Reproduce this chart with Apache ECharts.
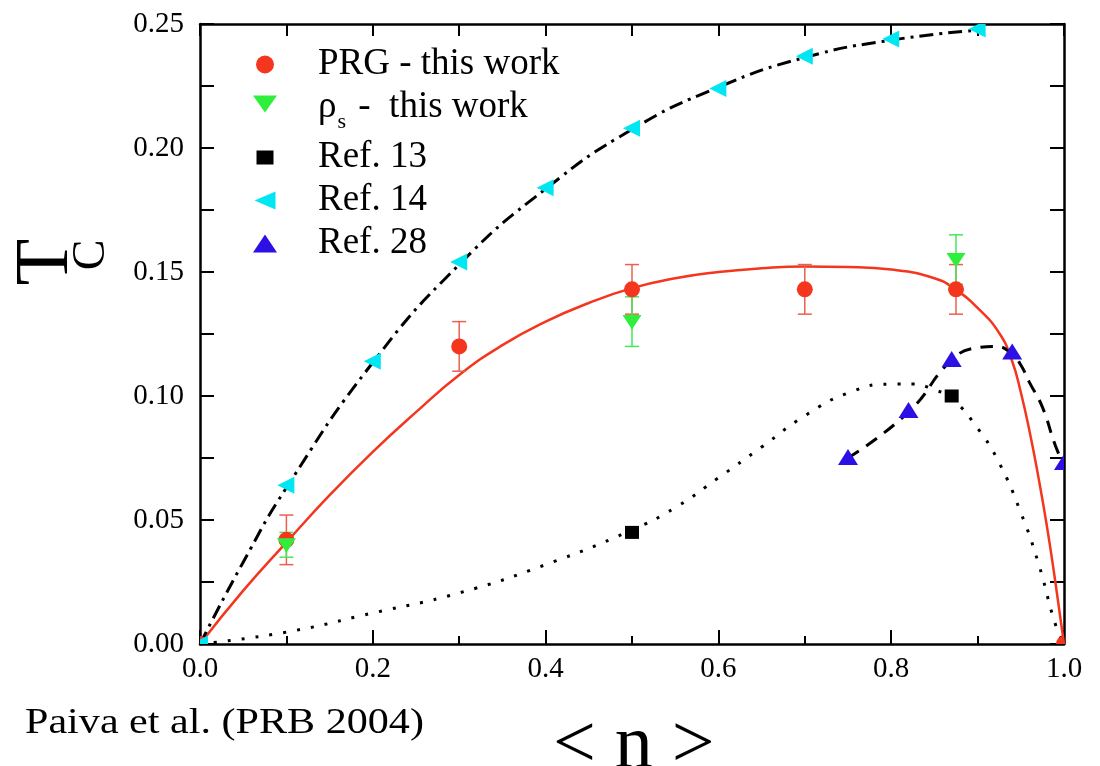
<!DOCTYPE html>
<html>
<head>
<meta charset="utf-8">
<script src="https://cdn.jsdelivr.net/npm/echarts@6/dist/echarts.min.js"></script>
<style>
html,body{margin:0;padding:0;background:#fff;}
#chart{width:1100px;height:766px;}
</style>
</head>
<body>
<div id="chart"></div>
<script>
// ---------- data ----------
const xTicks = [0.0, 0.2, 0.4, 0.6, 0.8, 1.0];
const yTicks = [0.00, 0.05, 0.10, 0.15, 0.20, 0.25];

// PRG - this work (red circles with error bars)
const prgX   = [0.0, 0.1, 0.3, 0.5, 0.7, 0.875, 1.0];
const prgY   = [0.0, 0.042, 0.120, 0.143, 0.143, 0.143, 0.0];
const prgErr = [null, 0.010, 0.010, 0.010, 0.010, 0.010, null];

// rho_s - this work (green down triangles with error bars)
const rhoX   = [0.1, 0.5, 0.875];
const rhoY   = [0.040, 0.130, 0.155];
const rhoErr = [0.005, 0.010, 0.010];

// Ref. 13 (black squares)
const ref13X = [0.5, 0.87];
const ref13Y = [0.045, 0.100];

// Ref. 14 (cyan left triangles)
const ref14X = [0.0, 0.1, 0.2, 0.3, 0.4, 0.5, 0.6, 0.7, 0.8, 0.9];
const ref14Y = [0.0, 0.064, 0.114, 0.154, 0.184, 0.208, 0.224, 0.237, 0.244, 0.248];

// Ref. 28 (blue triangles)
const ref28X = [0.75, 0.82, 0.87, 0.94, 1.0];
const ref28Y = [0.075, 0.094, 0.1145, 0.1175, 0.073];

// Curves
const prgFitX = [0, 0.05, 0.1, 0.15, 0.2, 0.25, 0.3, 0.35, 0.4, 0.45, 0.5, 0.55, 0.6, 0.65, 0.7, 0.75, 0.8, 0.85, 0.875, 0.9, 0.925, 0.94, 0.95, 0.96, 0.97, 0.98, 0.99, 1.0];
const prgFitY = [0, 0.0215, 0.041, 0.060, 0.0775, 0.0935, 0.1085, 0.1205, 0.130, 0.1375, 0.1435, 0.1475, 0.150, 0.1515, 0.1522, 0.152, 0.151, 0.1475, 0.1428, 0.1355, 0.1254, 0.114, 0.1015, 0.086, 0.068, 0.048, 0.025, 0];

const ref14CurveX = [0, 0.05, 0.1, 0.2, 0.3, 0.4, 0.5, 0.6, 0.7, 0.8, 0.9];
const ref14CurveY = [0, 0.033, 0.063, 0.1135, 0.153, 0.1835, 0.2075, 0.2245, 0.2365, 0.2435, 0.2475];

const ref13CurveX = [0, 0.1, 0.2, 0.3, 0.4, 0.5, 0.55, 0.6, 0.65, 0.7, 0.75, 0.8, 0.825, 0.85, 0.87, 0.9, 0.925, 0.95, 0.97, 0.99, 1.0];
const ref13CurveY = [0, 0.0048, 0.0125, 0.0206, 0.032, 0.046, 0.055, 0.067, 0.0794, 0.092, 0.1012, 0.1048, 0.1048, 0.1025, 0.099, 0.087, 0.073, 0.053, 0.033, 0.008, 0];

const ref28CurveX = [0.75, 0.82, 0.87, 0.9, 0.92, 0.94, 0.95, 0.96, 0.975, 0.99, 1.0];
const ref28CurveY = [0.075, 0.0935, 0.1145, 0.1195, 0.1200, 0.1170, 0.1125, 0.1055, 0.0955, 0.080, 0.072];

// ---------- styling ----------
const FONT = '"Liberation Serif", "Times New Roman", serif';
const RED = '#f4361f', RED_BAR = '#e9604e';
const GREEN = '#2ef03c', GREEN_BAR = '#46e85a';
const CYAN = '#00e6f2', BLUE = '#2c10e4', BLACK = '#000000';

const N_PRG = 'PRG - this work';
const N_RHO = 'ρs - this work';
const N_13 = 'Ref. 13';
const N_14 = 'Ref. 14';
const N_28 = 'Ref. 28';

const zip = (xs, ys) => xs.map((x, i) => [x, ys[i]]);

function shapeAt(shape, cx, cy, color) {
  switch (shape) {
    case 'circle':
      return {type: 'circle', shape: {cx, cy, r: 8}, style: {fill: color}};
    case 'down':
      return {type: 'polygon', shape: {points: [[cx - 9.5, cy - 6.5], [cx + 9.5, cy - 6.5], [cx, cy + 8]]}, style: {fill: color}};
    case 'square':
      return {type: 'rect', shape: {x: cx - 7, y: cy - 6.5, width: 14, height: 13}, style: {fill: color}};
    case 'left':
      return {type: 'polygon', shape: {points: [[cx - 9, cy], [cx + 8, cy - 8.5], [cx + 8, cy + 8.5]]}, style: {fill: color}};
    case 'up':
      return {type: 'polygon', shape: {points: [[cx, cy - 9], [cx + 10, cy + 7], [cx - 10, cy + 7]]}, style: {fill: color}};
  }
}

function markerSeries(name, xs, ys, color, shape) {
  return {
    name, type: 'custom', clip: true, z: 5,
    itemStyle: {color},
    data: zip(xs, ys),
    encode: {x: 0, y: 1},
    renderItem: (params, api) => {
      const c = api.coord([api.value(0), api.value(1)]);
      return shapeAt(shape, c[0], c[1], color);
    }
  };
}

function errorSeries(name, xs, ys, errs, color) {
  const data = [];
  xs.forEach((x, i) => { if (errs[i] != null) data.push([x, ys[i] - errs[i], ys[i] + errs[i]]); });
  return {
    name, type: 'custom', clip: true, z: 4,
    data, encode: {x: 0, y: [1, 2]},
    renderItem: (params, api) => {
      const x = api.value(0);
      const lo = api.coord([x, api.value(1)]);
      const hi = api.coord([x, api.value(2)]);
      const w = 7;
      const st = {stroke: color, lineWidth: 1.5};
      return {type: 'group', children: [
        {type: 'line', shape: {x1: lo[0], y1: lo[1], x2: hi[0], y2: hi[1]}, style: st},
        {type: 'line', shape: {x1: lo[0] - w, y1: lo[1], x2: lo[0] + w, y2: lo[1]}, style: st},
        {type: 'line', shape: {x1: hi[0] - w, y1: hi[1], x2: hi[0] + w, y2: hi[1]}, style: st}
      ]};
    }
  };
}

function curveSeries(name, xs, ys, color, width, type, smooth) {
  return {
    name, type: 'line', showSymbol: false, symbol: 'none', smooth: smooth, z: 3,
    data: zip(xs, ys),
    lineStyle: {color, width, type},
    silent: true
  };
}

const axisLine = {show: true, onZero: false, lineStyle: {color: '#000', width: 2.5}};
const tickStyle = {color: '#000', width: 2};

const option = {
  animation: false,
  backgroundColor: '#ffffff',
  grid: {left: 200, right: 36, top: 24, bottom: 122, containLabel: false},
  xAxis: [
    {
      type: 'value', position: 'bottom', min: 0, max: 1, interval: 0.2,
      axisLine, axisTick: {show: true, inside: true, length: 14, lineStyle: tickStyle},
      minorTick: {show: true, splitNumber: 2, length: 8, lineStyle: tickStyle},
      axisLabel: {show: true, color: '#000', fontFamily: FONT, fontSize: 29, margin: 11,
        formatter: v => { const t = xTicks.find(k => Math.abs(k - v) < 1e-9); return t == null ? '' : t.toFixed(1); }},
      splitLine: {show: false}, minorSplitLine: {show: false}
    },
    {
      type: 'value', position: 'top', min: 0, max: 1, interval: 0.1,
      axisLine, axisTick: {show: true, inside: true, length: 12, lineStyle: tickStyle},
      axisLabel: {show: false}, splitLine: {show: false}
    }
  ],
  yAxis: [
    {
      type: 'value', position: 'left', min: 0, max: 0.25, interval: 0.05,
      axisLine, axisTick: {show: true, inside: true, length: 14, lineStyle: tickStyle},
      minorTick: {show: true, splitNumber: 2, length: 14, lineStyle: tickStyle},
      axisLabel: {show: true, color: '#000', fontFamily: FONT, fontSize: 29, margin: 16,
        formatter: v => { const t = yTicks.find(k => Math.abs(k - v) < 1e-9); return t == null ? '' : t.toFixed(2); }},
      splitLine: {show: false}, minorSplitLine: {show: false}
    },
    {
      type: 'value', position: 'right', min: 0, max: 0.25, interval: 0.025,
      axisLine, axisTick: {show: true, inside: true, length: 14, lineStyle: tickStyle},
      axisLabel: {show: false}, splitLine: {show: false}
    }
  ],
  legend: {
    orient: 'vertical', left: 248, top: 41,
    itemWidth: 24, itemHeight: 18, itemGap: 6,
    selectedMode: false,
    data: [
      {name: N_PRG, icon: 'circle', itemStyle: {color: RED}},
      {name: N_RHO, icon: 'path://M0,0L24,0L12,17Z', itemStyle: {color: GREEN}},
      {name: N_13, icon: 'path://M0,0M24,18M3.5,2L20.5,2L20.5,16L3.5,16Z', itemStyle: {color: BLACK}},
      {name: N_14, icon: 'path://M0,0M24,18M1.5,9L22.5,0L22.5,18Z', itemStyle: {color: CYAN}},
      {name: N_28, icon: 'path://M12,0L24,18L0,18Z', itemStyle: {color: BLUE}}
    ],
    formatter: name => name === N_RHO ? '{b|ρ}{s|s}{b| -  this work}' : '{a|' + name + '}',
    textStyle: {
      color: '#000', fontFamily: FONT, fontSize: 37, lineHeight: 30, padding: [0, 0, 0, 36],
      rich: {
        a: {fontFamily: FONT, fontSize: 37, lineHeight: 30, color: '#000'},
        b: {fontFamily: FONT, fontSize: 37, lineHeight: 30, color: '#000', padding: [0, 0, 0, 0], verticalAlign: 'top'},
        s: {fontFamily: FONT, fontSize: 22, lineHeight: 14, color: '#000', padding: [22, 3, 0, 1], verticalAlign: 'top'}
      }
    }
  },
  graphic: [
    {type: 'text', x: 47, y: 262, rotation: Math.PI / 2, silent: true,
      style: {text: 'T', fontFamily: FONT, fontSize: 76, fill: '#000', align: 'center', verticalAlign: 'middle'}},
    {type: 'text', x: 92, y: 255, rotation: Math.PI / 2, silent: true,
      style: {text: 'C', fontFamily: FONT, fontSize: 46, fill: '#000', align: 'center', verticalAlign: 'middle'}},
    {type: 'text', x: 553, y: 747, silent: true,
      style: {text: '< n >', fontFamily: FONT, fontSize: 76, fill: '#000', align: 'left', verticalAlign: 'middle'}},
    {type: 'text', x: 25, y: 724, scaleX: 1.17, silent: true,
      style: {text: 'Paiva et al. (PRB 2004)', fontFamily: FONT, fontSize: 36, fill: '#000', align: 'left', verticalAlign: 'middle'}}
  ],
  series: [
    curveSeries('PRG fit', prgFitX, prgFitY, RED, 2.5, 'solid', 0.5),
    curveSeries('Ref. 14 curve', ref14CurveX, ref14CurveY, BLACK, 3, [14, 6, 3, 6], 0.5),
    curveSeries('Ref. 13 curve', ref13CurveX, ref13CurveY, BLACK, 3, [3, 11], 0.5),
    curveSeries('Ref. 28 curve', ref28CurveX, ref28CurveY, BLACK, 3, [13, 9], 0.5),
    errorSeries('PRG error', prgX, prgY, prgErr, RED_BAR),
    errorSeries('rho error', rhoX, rhoY, rhoErr, GREEN_BAR),
    markerSeries(N_PRG, prgX, prgY, RED, 'circle'),
    markerSeries(N_RHO, rhoX, rhoY, GREEN, 'down'),
    markerSeries(N_13, ref13X, ref13Y, BLACK, 'square'),
    markerSeries(N_14, ref14X, ref14Y, CYAN, 'left'),
    markerSeries(N_28, ref28X, ref28Y, BLUE, 'up')
  ]
};

const chart = echarts.init(document.getElementById('chart'), null, {renderer: 'canvas'});
chart.setOption(option);
</script>
</body>
</html>
